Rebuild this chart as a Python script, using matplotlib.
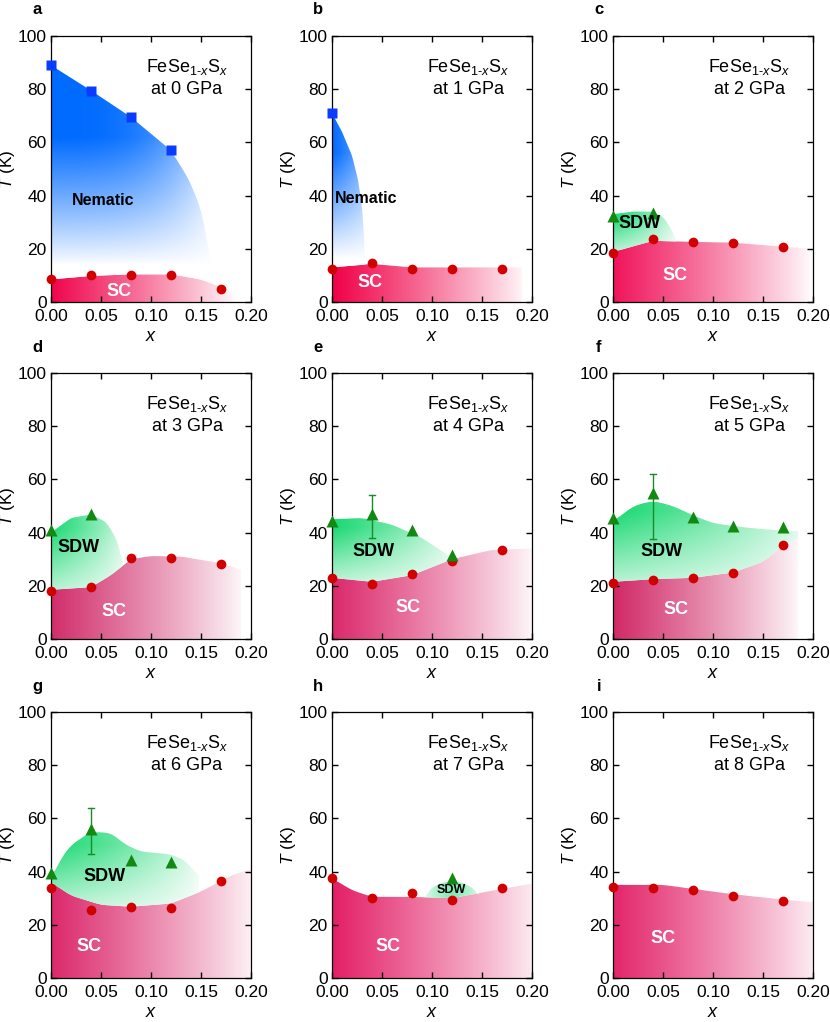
import numpy as np
import matplotlib
matplotlib.use('Agg')
import matplotlib.pyplot as plt
from matplotlib.patches import Polygon

plt.rcParams['font.family'] = 'Liberation Sans'
plt.rcParams['mathtext.fontset'] = 'custom'
plt.rcParams['mathtext.rm'] = 'Liberation Sans'
plt.rcParams['mathtext.it'] = 'Liberation Sans:italic'
plt.rcParams['mathtext.bf'] = 'Liberation Sans:bold'

# sulphur content of the measured samples
x_pts = [0.0, 0.04, 0.08, 0.12, 0.17]
pressures = [0, 1, 2, 3, 4, 5, 6, 7, 8]
letters = ['a', 'b', 'c', 'd', 'e', 'f', 'g', 'h', 'i']

# superconducting Tc (red circles), one list per pressure
sc_0 = [8.5, 10.0, 10.3, 10.3, 5.0]
sc_1 = [12.5, 14.8, 12.5, 12.5, 12.5]
sc_2 = [18.5, 23.5, 22.5, 22.3, 20.8]
sc_3 = [18.0, 19.5, 30.5, 30.5, 28.3]
sc_4 = [23.0, 20.5, 24.5, 29.5, 33.3]
sc_5 = [21.0, 22.2, 23.0, 25.0, 35.3]
sc_6 = [34.0, 25.5, 26.8, 26.3, 36.3]
sc_7 = [37.5, 30.0, 31.8, 29.2, 34.0]
sc_8 = [34.2, 33.7, 33.2, 30.8, 28.8]

# nematic transition (blue squares)
nem_x_0 = [0.0, 0.04, 0.08, 0.12]
nem_T_0 = [89.0, 79.5, 69.5, 57.0]
nem_x_1 = [0.0]
nem_T_1 = [71.0]

# SDW transition (green triangles)
sdw_x_2 = [0.0, 0.04]
sdw_T_2 = [32.5, 33.5]
sdw_x_3 = [0.0, 0.04]
sdw_T_3 = [41.0, 47.0]
sdw_x_4 = [0.0, 0.04, 0.08, 0.12]
sdw_T_4 = [44.5, 47.0, 41.0, 31.5]
sdw_x_5 = [0.0, 0.04, 0.08, 0.12, 0.17]
sdw_T_5 = [45.5, 55.0, 46.0, 42.5, 42.2]
sdw_x_6 = [0.0, 0.04, 0.08, 0.12]
sdw_T_6 = [39.5, 56.0, 44.5, 43.7]
sdw_x_7 = [0.12]
sdw_T_7 = [37.5]

# error bars on SDW points: x, low, high
err_4 = [0.04, 38.0, 54.0]
err_5 = [0.04, 37.5, 62.0]
err_6 = [0.04, 46.5, 64.0]

# phase boundaries
sc_edge_x_0 = [0.0, 0.04, 0.08, 0.12, 0.15, 0.18, 0.19]
sc_edge_T_0 = [8.5, 9.8, 10.4, 10.4, 8.5, 4.0, 2.0]
sc_edge_x_1 = [0.0, 0.04, 0.08, 0.12, 0.19]
sc_edge_T_1 = [13.0, 14.3, 13.0, 13.0, 13.0]
sc_edge_x_2 = [0.0, 0.04, 0.08, 0.12, 0.17, 0.2]
sc_edge_T_2 = [18.8, 23.0, 22.6, 22.3, 20.8, 20.0]
sc_edge_x_3 = [0.0, 0.04, 0.06, 0.08, 0.1, 0.13, 0.17, 0.19]
sc_edge_T_3 = [18.5, 19.5, 24.0, 30.0, 31.2, 31.0, 28.5, 26.0]
sc_edge_x_4 = [0.0, 0.04, 0.08, 0.12, 0.16, 0.2]
sc_edge_T_4 = [23.0, 21.5, 24.0, 30.0, 33.5, 34.0]
sc_edge_x_5 = [0.0, 0.04, 0.08, 0.12, 0.15, 0.17, 0.185]
sc_edge_T_5 = [21.5, 22.5, 23.0, 25.0, 29.0, 35.0, 38.0]
sc_edge_x_6 = [0.0, 0.02, 0.05, 0.08, 0.12, 0.15, 0.18, 0.2]
sc_edge_T_6 = [36.0, 31.0, 27.5, 26.8, 28.0, 32.5, 38.5, 41.0]
sc_edge_x_7 = [0.0, 0.02, 0.04, 0.08, 0.12, 0.16, 0.2]
sc_edge_T_7 = [37.5, 33.0, 30.5, 30.5, 30.0, 32.8, 35.5]
sc_edge_x_8 = [0.0, 0.05, 0.08, 0.12, 0.17, 0.2]
sc_edge_T_8 = [35.0, 35.0, 33.5, 31.5, 29.5, 28.5]

nem_edge_x_0 = [0.0, 0.04, 0.08, 0.12, 0.138, 0.15, 0.156, 0.16]
nem_edge_T_0 = [89.0, 79.5, 69.5, 57.0, 46.0, 35.0, 24.0, 12.0]
nem_edge_x_1 = [0.0, 0.01, 0.02, 0.026, 0.03, 0.032, 0.033]
nem_edge_T_1 = [71.0, 64.0, 55.0, 46.0, 36.0, 25.0, 14.0]

sdw_edge_x_2 = [0.0, 0.02, 0.04, 0.05, 0.056, 0.06, 0.063]
sdw_edge_T_2 = [33.0, 34.0, 34.0, 32.0, 29.0, 26.0, 23.0]
sdw_edge_x_3 = [0.0, 0.02, 0.04, 0.055, 0.065, 0.07, 0.072]
sdw_edge_T_3 = [40.0, 45.5, 46.8, 44.0, 38.0, 32.0, 27.0]
sdw_edge_x_4 = [0.0, 0.03, 0.06, 0.09, 0.11, 0.12]
sdw_edge_T_4 = [45.0, 45.5, 43.0, 38.0, 33.0, 30.5]
sdw_edge_x_5 = [0.0, 0.02, 0.04, 0.06, 0.08, 0.1, 0.13, 0.16, 0.185]
sdw_edge_T_5 = [44.0, 50.0, 52.0, 50.0, 46.5, 43.5, 42.0, 41.0, 40.5]
sdw_edge_x_6 = [0.0, 0.01, 0.02, 0.04, 0.06, 0.075, 0.09, 0.12, 0.135, 0.148]
sdw_edge_T_6 = [37.0, 45.0, 50.0, 55.0, 54.5, 50.0, 47.5, 46.5, 44.0, 38.0]
sdw_edge_x_7 = [0.093, 0.1, 0.11, 0.12, 0.13, 0.14, 0.147]
sdw_edge_T_7 = [30.5, 34.0, 35.8, 36.3, 35.8, 34.0, 31.0]

sc_list = [sc_0, sc_1, sc_2, sc_3, sc_4, sc_5, sc_6, sc_7, sc_8]
sc_edges = [(sc_edge_x_0, sc_edge_T_0), (sc_edge_x_1, sc_edge_T_1), (sc_edge_x_2, sc_edge_T_2),
            (sc_edge_x_3, sc_edge_T_3), (sc_edge_x_4, sc_edge_T_4), (sc_edge_x_5, sc_edge_T_5),
            (sc_edge_x_6, sc_edge_T_6), (sc_edge_x_7, sc_edge_T_7), (sc_edge_x_8, sc_edge_T_8)]
nem_pts = {0: (nem_x_0, nem_T_0), 1: (nem_x_1, nem_T_1)}
nem_edges = {0: (nem_edge_x_0, nem_edge_T_0), 1: (nem_edge_x_1, nem_edge_T_1)}
sdw_pts = {2: (sdw_x_2, sdw_T_2), 3: (sdw_x_3, sdw_T_3), 4: (sdw_x_4, sdw_T_4),
           5: (sdw_x_5, sdw_T_5), 6: (sdw_x_6, sdw_T_6), 7: (sdw_x_7, sdw_T_7)}
sdw_edges = {2: (sdw_edge_x_2, sdw_edge_T_2), 3: (sdw_edge_x_3, sdw_edge_T_3),
             4: (sdw_edge_x_4, sdw_edge_T_4), 5: (sdw_edge_x_5, sdw_edge_T_5),
             6: (sdw_edge_x_6, sdw_edge_T_6), 7: (sdw_edge_x_7, sdw_edge_T_7)}
errs = {4: err_4, 5: err_5, 6: err_6}

# styling per panel
sc_base = [(0.94, 0.02, 0.30), (0.94, 0.0, 0.28), (0.94, 0.08, 0.36),
           (0.82, 0.18, 0.42), (0.86, 0.16, 0.42), (0.82, 0.16, 0.40),
           (0.86, 0.16, 0.42), (0.89, 0.12, 0.40), (0.89, 0.15, 0.42)]
sc_fade = [0.185, 0.195, 0.2, 0.195, 0.205, 0.19, 0.21, 0.215, 0.215]
sdw_fade = {2: (0.066, 19, 32), 3: (0.078, 18, 42), 4: (0.128, 22, 42),
            5: (0.2, 21, 48), 6: (0.152, 27, 50), 7: (0.15, 30, 36)}
sc_lbl = [(0.068, 4), (0.038, 7.5), (0.062, 10), (0.063, 10.5), (0.076, 12),
          (0.063, 11), (0.038, 12), (0.056, 12), (0.05, 15)]
sdw_lbl = {2: (0.027, 29.5), 3: (0.028, 34.5), 4: (0.042, 33), 5: (0.049, 33),
           6: (0.054, 38), 7: (0.119, 33)}
nem_lbl = {0: (0.052, 38), 1: (0.034, 39)}

col_left = [51, 332, 613]
row_top = [36, 373, 712]
W, H = 830, 1022

gx = np.linspace(0, 0.2, 300)
gy = np.linspace(0, 100, 400)
X, Y = np.meshgrid(gx, gy)


def smooth(px, py, n=240):
    xs = np.linspace(px[0], px[-1], n)
    ys = np.interp(xs, px, py)
    k = np.hanning(25)
    k = k / k.sum()
    ys = np.convolve(np.pad(ys, 12, mode='edge'), k, mode='valid')
    return xs, ys


def shade(ax, verts, base, a, z):
    rgb = 1 - a[..., None] * (1 - np.array(base)[None, None, :])
    im = ax.imshow(rgb, extent=(0, 0.2, 0, 100), origin='lower', aspect='auto',
                   zorder=z, interpolation='bilinear')
    patch = Polygon(verts, closed=True, facecolor='none', edgecolor='none',
                    transform=ax.transData)
    ax.add_patch(patch)
    im.set_clip_path(patch)


fig = plt.figure(figsize=(W / 100, H / 100), dpi=100)

for i, p in enumerate(pressures):
    r, c = divmod(i, 3)
    ax = fig.add_axes([col_left[c] / W, 1 - (row_top[r] + 266) / H, 200 / W, 266 / H])

    # superconducting dome
    ex, ey = smooth(*sc_edges[i])
    verts = [(ex[0], 0)] + list(zip(ex, ey)) + [(ex[-1], 0)]
    a = np.clip(1 - X / sc_fade[i], 0, 1) ** 0.9
    shade(ax, verts, sc_base[i], a, 1)

    if p in nem_edges:
        tx, ty = smooth(*nem_edges[p])
        bot = np.interp(tx, ex, ey)
        verts = list(zip(tx, ty)) + list(zip(tx[::-1], bot[::-1]))
        if p == 0:
            a = np.clip((Y - 14) / 48, 0, 1) ** 0.9 * np.clip(1 - (X / 0.17) ** 3, 0, 1)
        else:
            a = np.clip((Y - 16) / 40, 0, 1) * np.clip(1 - X / 0.045, 0, 1) ** 0.5
        shade(ax, verts, (0.0, 0.42, 1.0), a, 2)

    if p in sdw_edges:
        tx, ty = smooth(*sdw_edges[p], n=160)
        bot = np.interp(tx, ex, ey)
        verts = list(zip(tx, ty)) + list(zip(tx[::-1], bot[::-1]))
        xr, yb, yt = sdw_fade[p]
        if p == 7:
            a = 0.55 * np.clip(1 - np.abs(X - 0.12) / 0.03, 0, 1) ** 0.6
        else:
            a = np.clip(1 - X / xr, 0, 1) ** 0.7 * np.clip(0.3 + 0.7 * (Y - yb) / (yt - yb), 0, 1)
        shade(ax, verts, (0.10, 0.85, 0.45), a, 2)

    # data points
    ax.plot(x_pts, sc_list[i], 'o', color='#d00000', ms=7, mec='none', zorder=5, clip_on=False)
    if p in nem_pts:
        ax.plot(*nem_pts[p], 's', color='#0a3cff', ms=7, mec='none', zorder=5, clip_on=False)
    if p in sdw_pts:
        if p in errs:
            ex0, lo, hi = errs[p]
            ax.plot([ex0, ex0], [lo, hi], color='#1a8a2a', lw=1, zorder=4)
            ax.plot([ex0 - 0.003, ex0 + 0.003], [lo, lo], color='#1a8a2a', lw=1, zorder=4)
            ax.plot([ex0 - 0.003, ex0 + 0.003], [hi, hi], color='#1a8a2a', lw=1, zorder=4)
        ax.plot(*sdw_pts[p], '^', color='#128a12', ms=8, mec='none', zorder=5, clip_on=False)

    # labels inside
    ax.text(*sc_lbl[i], 'SC', color='white', fontsize=13, fontweight='bold',
            ha='center', va='center', zorder=6)
    if p in sdw_lbl:
        ax.text(*sdw_lbl[p], 'SDW', color='black', fontsize=9 if p == 7 else 13,
                fontweight='bold', ha='center', va='center', zorder=6)
    if p in nem_lbl:
        ax.text(*nem_lbl[p], 'Nematic', color='black', fontsize=11.5, fontweight='bold',
                ha='center', va='center', zorder=6)
    ax.text(0.68, 0.866, r'FeSe$_{\text{1-}x}$S$_{x}$', transform=ax.transAxes,
            ha='center', va='baseline', fontsize=13)
    ax.text(0.68, 0.782, 'at %d GPa' % p, transform=ax.transAxes,
            ha='center', va='baseline', fontsize=13)

    ax.set_xlim(0, 0.2)
    ax.set_ylim(0, 100)
    ax.set_xticks([0, 0.05, 0.1, 0.15, 0.2])
    ax.set_xticklabels(['0.00', '0.05', '0.10', '0.15', '0.20'])
    ax.set_yticks([0, 20, 40, 60, 80, 100])
    ax.tick_params(direction='in', top=True, right=True, length=4, width=1,
                   labelsize=12.5)
    ax.tick_params(axis='x', pad=5)
    ax.tick_params(axis='y', pad=3)
    for s in ax.spines.values():
        s.set_linewidth(0.9)
    ax.set_xlabel('$x$', fontsize=13, labelpad=3)
    ax.set_ylabel('$T$ (K)', fontsize=12.5, labelpad=0.5)

    fig.text((col_left[c] - 14) / W, 1 - (row_top[r] - 26) / H, letters[i],
             fontsize=12, fontweight='bold', ha='center', va='center')

fig.savefig('out.png', dpi=100)
